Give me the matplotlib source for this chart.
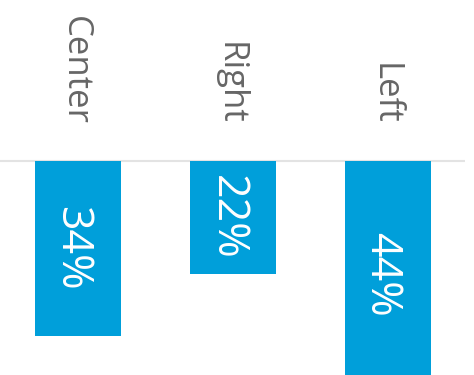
import matplotlib
matplotlib.use('Agg')
import matplotlib.pyplot as plt

categories = ['Center', 'Right', 'Left']
values = [34, 22, 44]

plt.rcParams['font.family'] = ['Open Sans', 'DejaVu Sans']

fig = plt.figure(figsize=(4.74, 3.75), dpi=100)
ax = fig.add_axes([0, 0, 1, 1])

x = list(range(len(categories)))
ax.bar(x, [-v for v in values], width=0.555, color='#009fda', align='center')
ax.hlines(0, -0.5, 2.5, color='#e3e3e3', linewidth=1.5, zorder=0)

for i, (c, v) in enumerate(zip(categories, values)):
    ax.text(i - 0.02, 7.0, c, rotation=270, rotation_mode='anchor', ha='right', va='center',
            fontsize=25, color='#666666')
    ax.text(i - 0.04, -v / 2, f'{v}%', rotation=270, rotation_mode='anchor', ha='center', va='center',
            fontsize=31, color='white')

ax.set_xlim(-0.503, 2.555)
ax.set_ylim(-41.6, 31.3)
ax.axis('off')

fig.savefig('out.png', dpi=100)
